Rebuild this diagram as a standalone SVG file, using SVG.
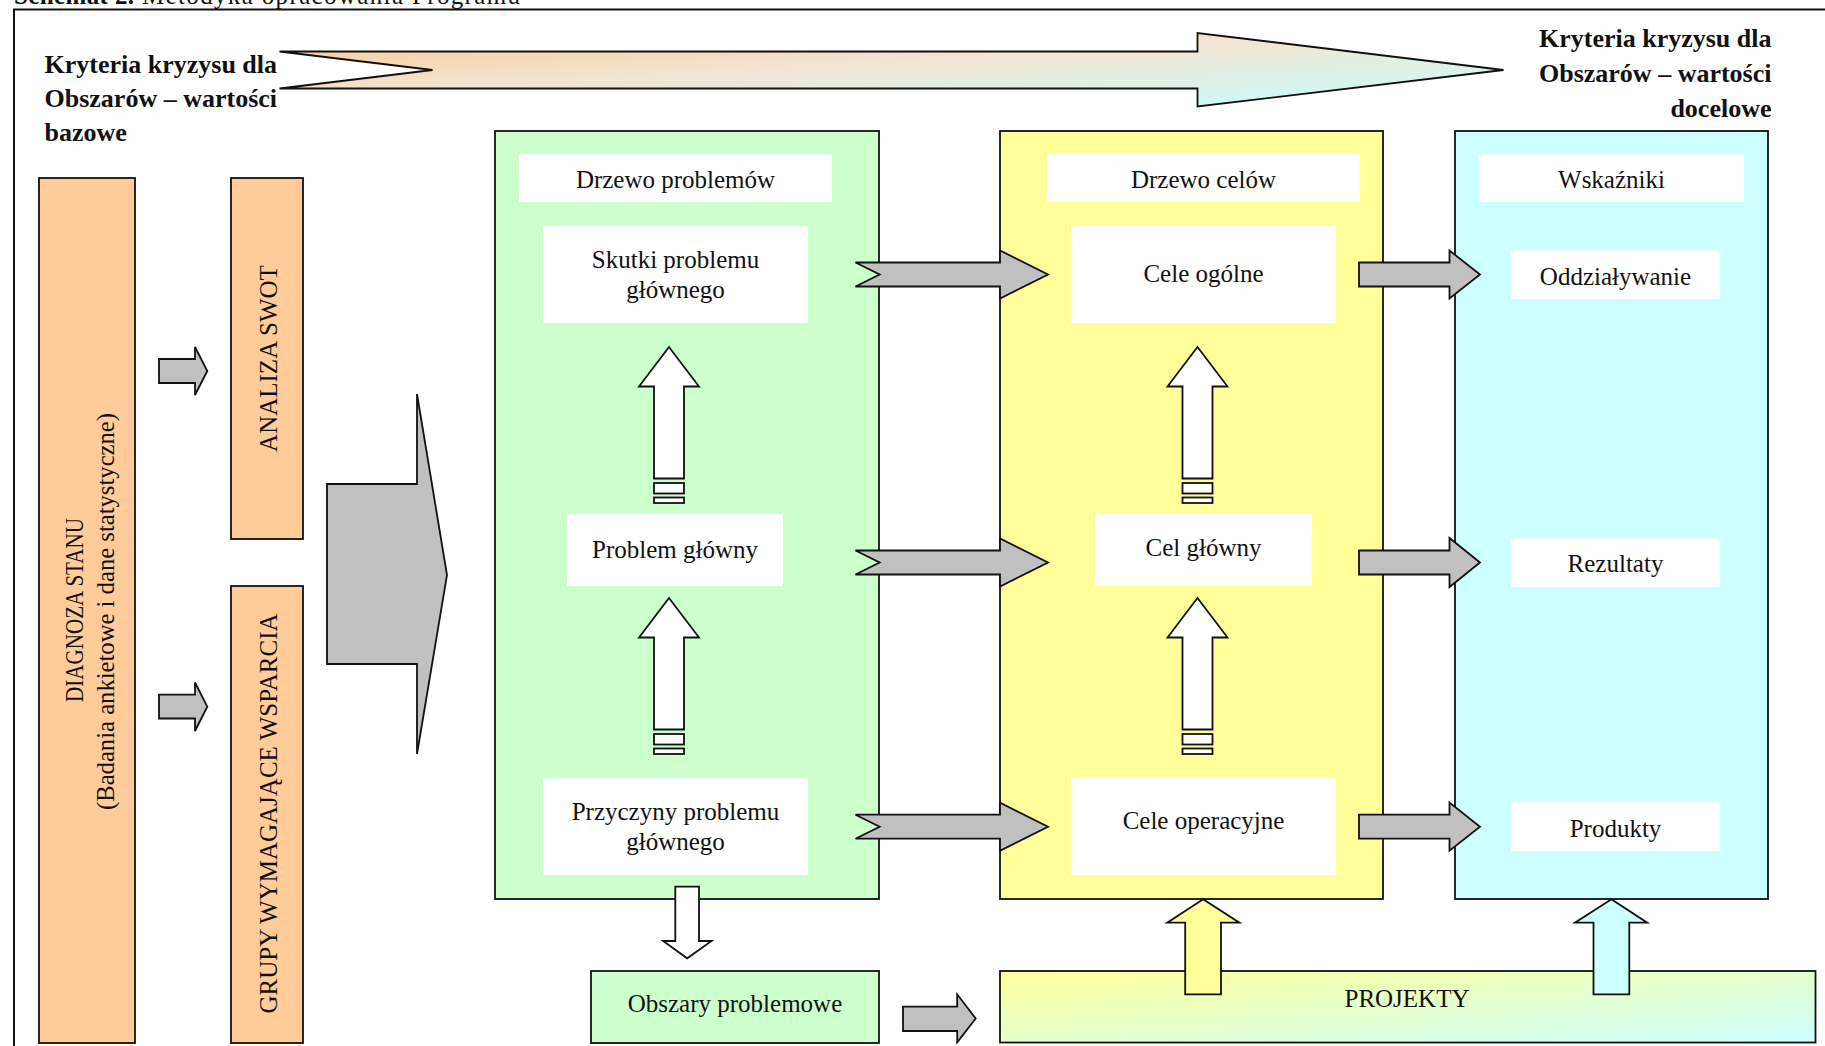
<svg xmlns="http://www.w3.org/2000/svg" width="1825" height="1046" viewBox="0 0 1825 1046">
  <defs>
    <linearGradient id="gTop" x1="0" y1="0" x2="1" y2="1">
      <stop offset="0" stop-color="#FAC794"/>
      <stop offset="0.45" stop-color="#F3E5D3"/>
      <stop offset="1" stop-color="#C6FFFF"/>
    </linearGradient>
    <linearGradient id="gProj" x1="0" y1="0" x2="1" y2="1">
      <stop offset="0" stop-color="#FFFF99"/>
      <stop offset="1" stop-color="#CCFFFF"/>
    </linearGradient>
    <style>
      .t { font-family: "Liberation Serif", "Times New Roman", serif; font-size: 25px; fill: #111; }
      .c { text-anchor: middle; }
      .b { font-weight: bold; }
      .lab { font-size: 26px; font-weight: bold; }
      .ln { stroke: #111; stroke-width: 1.8; }
      .peach { fill: #FFCC99; }
      .green { fill: #CCFFCC; }
      .yellow { fill: #FFFF99; }
      .cyan { fill: #CCFFFF; }
      .wbox { fill: #FFFFFF; }
      .gray { fill: #C0C0C0; stroke: #111; stroke-width: 1.8; }
      .warr { fill: #FFFFFF; stroke: #111; stroke-width: 1.8; }
    </style>
  </defs>
  <rect width="1825" height="1046" fill="#FFFFFF"/>

  <!-- caption (cut at top, as in the source) -->
  <g id="caption">
    <text class="t b" x="14" y="3.5" textLength="120">Schemat 2.</text>
    <text class="t" x="142" y="3.5" textLength="378">Metodyka opracowania Programu</text>
  </g>

  <!-- outer frame -->
  <rect id="frame" x="14" y="9.5" width="1840" height="1060" fill="none" stroke="#111" stroke-width="2"/>

  <!-- top criteria arrow and labels -->
  <g id="criteria-arrow">
    <polygon points="279.5,51.5 1197.5,51.5 1197.5,33 1503.5,70 1197.5,106.5 1197.5,88.5 279.5,88.5 432.5,70" fill="url(#gTop)" stroke="#111" stroke-width="1.8"/>
  </g>
  <g id="label-base">
    <text class="t lab" x="44.5" y="72.5">Kryteria kryzysu dla</text>
    <text class="t lab" x="44.5" y="107">Obszarów – wartości</text>
    <text class="t lab" x="44.5" y="141">bazowe</text>
  </g>
  <g id="label-target" text-anchor="end">
    <text class="t lab" x="1771.5" y="47">Kryteria kryzysu dla</text>
    <text class="t lab" x="1771.5" y="82">Obszarów – wartości</text>
    <text class="t lab" x="1771.5" y="117">docelowe</text>
  </g>

  <!-- left column -->
  <g id="diagnoza">
    <rect class="peach ln" x="39" y="178" width="96" height="865"/>
    <text class="t c" font-size="23" transform="translate(83,610) rotate(-90)" textLength="184" lengthAdjust="spacingAndGlyphs">DIAGNOZA STANU</text>
    <text class="t c" font-size="23" transform="translate(114,611.5) rotate(-90)" textLength="397" lengthAdjust="spacingAndGlyphs">(Badania ankietowe i dane statystyczne)</text>
  </g>
  <g id="analiza-swot">
    <rect class="peach ln" x="231" y="178" width="72" height="361"/>
    <text class="t c" font-size="24" transform="translate(276.5,358.5) rotate(-90)">ANALIZA SWOT</text>
  </g>
  <g id="grupy">
    <rect class="peach ln" x="231" y="586" width="72" height="457"/>
    <text class="t c" font-size="24" transform="translate(276.5,813.5) rotate(-90)">GRUPY WYMAGAJĄCE WSPARCIA</text>
  </g>

  <!-- panels -->
  <g id="drzewo-problemow">
    <rect class="green ln" x="495" y="131" width="384" height="768"/>
    <rect class="wbox" x="519" y="154" width="313" height="48"/>
    <text class="t c" x="675.5" y="188">Drzewo problemów</text>
  </g>
  <g id="skutki">
    <rect class="wbox" x="543" y="226" width="265" height="97"/>
    <text class="t c" x="675.5" y="268">Skutki problemu</text>
    <text class="t c" x="675.5" y="298">głównego</text>
  </g>
  <g id="problem-glowny">
    <rect class="wbox" x="567" y="514" width="216" height="72"/>
    <text class="t c" x="675" y="558">Problem główny</text>
  </g>
  <g id="przyczyny">
    <rect class="wbox" x="543" y="778" width="265" height="97"/>
    <text class="t c" x="675.5" y="820">Przyczyny problemu</text>
    <text class="t c" x="675.5" y="850">głównego</text>
  </g>

  <g id="drzewo-celow">
    <rect class="yellow ln" x="1000" y="131" width="383" height="768"/>
    <rect class="wbox" x="1047" y="154" width="313" height="48"/>
    <text class="t c" x="1203.5" y="188">Drzewo celów</text>
  </g>
  <g id="cele-ogolne">
    <rect class="wbox" x="1071" y="226" width="265" height="97"/>
    <text class="t c" x="1203.5" y="282">Cele ogólne</text>
  </g>
  <g id="cel-glowny">
    <rect class="wbox" x="1095" y="514" width="217" height="72"/>
    <text class="t c" x="1203.5" y="556">Cel główny</text>
  </g>
  <g id="cele-operacyjne">
    <rect class="wbox" x="1071" y="778" width="265" height="97"/>
    <text class="t c" x="1203.5" y="829">Cele operacyjne</text>
  </g>

  <g id="wskazniki">
    <rect class="cyan ln" x="1455" y="131" width="313" height="768"/>
    <rect class="wbox" x="1479" y="154" width="265" height="48"/>
    <text class="t c" x="1611.5" y="188">Wskaźniki</text>
  </g>
  <g id="oddzialywanie">
    <rect class="wbox" x="1511" y="250" width="209" height="49"/>
    <text class="t c" x="1615.5" y="285">Oddziaływanie</text>
  </g>
  <g id="rezultaty">
    <rect class="wbox" x="1511" y="538" width="209" height="49"/>
    <text class="t c" x="1615.5" y="572">Rezultaty</text>
  </g>
  <g id="produkty">
    <rect class="wbox" x="1511" y="802" width="209" height="49"/>
    <text class="t c" x="1615.5" y="837">Produkty</text>
  </g>

  <g id="obszary-problemowe">
    <rect class="green ln" x="591" y="971" width="288" height="72"/>
    <text class="t c" x="735" y="1012">Obszary problemowe</text>
  </g>
  <g id="projekty">
    <rect x="1000" y="971" width="815.5" height="71.5" fill="url(#gProj)" class="ln"/>
    <text class="t c" x="1407" y="1007">PROJEKTY</text>
  </g>

  <!-- connectors -->
  <g id="connectors">
    <!-- diagnoza to swot / grupy -->
    <polygon class="gray" points="159,359 195,359 195,347 207.3,371 195,395 195,383 159,383"/>
    <polygon class="gray" points="159,694.7 195,694.7 195,682.5 207.3,706.7 195,731 195,718.5 159,718.5"/>
    <!-- big arrow to drzewo problemow -->
    <polygon class="gray" points="327,484 417,484 417,394 447,575 417,754 417,664 327,664"/>

    <!-- white up arrows, problem tree -->
    <polygon class="warr" points="669,347 699,386.5 684,386.5 684,478.5 654,478.5 654,386.5 639,386.5"/>
    <rect class="warr" x="654" y="483" width="30" height="10.5"/>
    <rect class="warr" x="654" y="497.5" width="30" height="5.5"/>
    <polygon class="warr" points="669,598 699,637.5 684,637.5 684,729.5 654,729.5 654,637.5 639,637.5"/>
    <rect class="warr" x="654" y="734" width="30" height="10.5"/>
    <rect class="warr" x="654" y="748.5" width="30" height="5.5"/>

    <!-- white up arrows, goal tree -->
    <polygon class="warr" points="1197.5,347 1227.5,386.5 1212.5,386.5 1212.5,478.5 1182.5,478.5 1182.5,386.5 1167.5,386.5"/>
    <rect class="warr" x="1182.5" y="483" width="30" height="10.5"/>
    <rect class="warr" x="1182.5" y="497.5" width="30" height="5.5"/>
    <polygon class="warr" points="1197.5,598 1227.5,637.5 1212.5,637.5 1212.5,729.5 1182.5,729.5 1182.5,637.5 1167.5,637.5"/>
    <rect class="warr" x="1182.5" y="734" width="30" height="10.5"/>
    <rect class="warr" x="1182.5" y="748.5" width="30" height="5.5"/>

    <!-- problem tree to goal tree (notched) -->
    <polygon class="gray" points="855.5,262.5 1000,262.5 1000,250.5 1048,274.5 1000,298.5 1000,286.5 855.5,286.5 879.6,274.5"/>
    <polygon class="gray" points="855.5,550.5 1000,550.5 1000,538.5 1048,562.5 1000,586.5 1000,574.5 855.5,574.5 879.6,562.5"/>
    <polygon class="gray" points="855.5,814.7 1000,814.7 1000,802.7 1048,826.7 1000,850.7 1000,838.7 855.5,838.7 879.6,826.7"/>

    <!-- goal tree to indicators -->
    <polygon class="gray" points="1359,262.5 1449.5,262.5 1449.5,250.5 1480,274.5 1449.5,298.5 1449.5,286.5 1359,286.5"/>
    <polygon class="gray" points="1359,550.5 1449.5,550.5 1449.5,538 1480,562.5 1449.5,587 1449.5,574.5 1359,574.5"/>
    <polygon class="gray" points="1359,814.7 1449.5,814.7 1449.5,802.5 1480,826.7 1449.5,850.7 1449.5,838.7 1359,838.7"/>

    <!-- down to obszary problemowe -->
    <polygon class="warr" points="675.3,886.7 699,886.7 699,941 711.6,941 687.2,958.3 663.1,941 675.3,941"/>
    <!-- obszary to projekty -->
    <polygon class="gray" points="903,1006.7 957.2,1006.7 957.2,994.3 975.7,1018.5 957.2,1042.3 957.2,1031 903,1031"/>
    <!-- projekty up arrows -->
    <polygon fill="#FFFF99" stroke="#111" stroke-width="1.8" points="1203.1,899.3 1239.4,922.7 1221,922.7 1221,994.3 1185.2,994.3 1185.2,922.7 1167.3,922.7"/>
    <polygon fill="#CCFFFF" stroke="#111" stroke-width="1.8" points="1611.4,899.3 1647.2,922.7 1629.3,922.7 1629.3,994.3 1593.5,994.3 1593.5,922.7 1575,922.7"/>
  </g>
</svg>
